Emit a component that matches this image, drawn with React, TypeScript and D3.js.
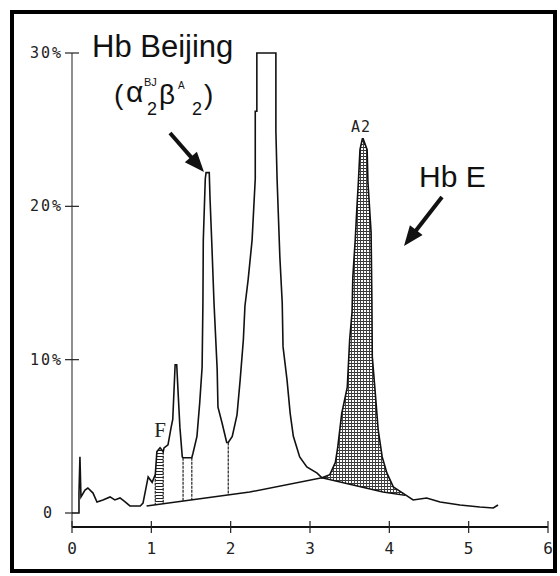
import React from "react";
import * as d3 from "d3";

// Retention time (min) and % of total
const times = [
  0, 0.088, 0.088, 0.1, 0.113, 0.164, 0.2, 0.265, 0.315, 0.39,
  0.48, 0.54, 0.605, 0.67, 0.73, 0.86, 0.895, 0.96, 1.01, 1.05,
  1.07, 1.11, 1.15, 1.16, 1.21, 1.25, 1.27, 1.3, 1.32, 1.34,
  1.36, 1.39, 1.4, 1.51, 1.525, 1.575, 1.61, 1.64, 1.65, 1.655,
  1.68, 1.69, 1.73, 1.74, 1.765, 1.79, 1.83, 1.84, 1.89, 1.95,
  1.97, 2.02, 2.08, 2.12, 2.16, 2.18, 2.22, 2.27, 2.31, 2.31,
  2.33, 2.33, 2.57, 2.57, 2.585, 2.6, 2.62, 2.65, 2.66, 2.71,
  2.75, 2.79, 2.87, 2.96, 3.09, 3.15, 3.25, 3.32, 3.35, 3.4,
  3.47, 3.5, 3.53, 3.54, 3.57, 3.59, 3.61, 3.63, 3.66, 3.67,
  3.72, 3.73, 3.77, 3.78, 3.785, 3.82, 3.86, 3.91, 3.97, 4.05,
  4.17, 4.3, 4.47, 4.64, 4.89, 5.14, 5.31, 5.37,
];
const percent = [
  0, 0, 1.3, 3.66, 1.05, 1.5, 1.63, 1.3, 0.72, 0.85,
  1.05, 0.85, 0.98, 0.72, 0.46, 0.46, 0.65, 2.35, 2.0, 2.5,
  4.0, 4.25, 4.0, 4.25, 4.45, 5.6, 6.1, 9.67, 9.67, 7.6,
  5.6, 3.66, 3.6, 3.6, 3.9, 5.0, 7.2, 9.5, 13.6, 17.8,
  21.8, 22.2, 22.2, 20.5, 17.2, 13.7, 9.35, 6.9, 5.9, 4.6,
  4.6, 5.0, 6.4, 8.7, 11.3, 13.5, 15.2, 17.8, 21.8, 26.2,
  26.2, 30, 30, 24.9, 21.8, 19.6, 16.7, 13.7, 10.85, 8.7,
  6.5, 5.0, 3.66, 3.0, 2.6, 2.3, 2.5, 3.3, 4.3, 6.5,
  8.2, 11.3, 13.1, 15.4, 17.8, 19.8, 21.6, 23.7, 24.4, 24.4,
  23.7, 21.6, 18.3, 13.9, 10.2, 8.0, 5.4, 3.66, 2.6, 1.7,
  1.3, 0.85, 0.98, 0.72, 0.52, 0.39, 0.33, 0.52,
];

// Integration baseline
const baseTimes = [0.94, 2.24, 3.15, 3.92, 4.2];
const basePercent = [0.45, 1.37, 2.3, 1.37, 1.15];

// Peak boundary drop lines
const dropTimes = [1.05, 1.15, 1.4, 1.51, 1.97];
const fRange = [1.05, 1.15];
const a2Range = [3.15, 4.17];

const xTicks = [0, 1, 2, 3, 4, 5, 6];
const yTicks = [0, 10, 20, 30];
const yTickLabels = ["0", "10%", "20%", "30%"];

function interp(xs: number[], ys: number[], t: number) {
  const i = d3.bisectRight(xs, t);
  if (i <= 0) return ys[0];
  if (i >= xs.length) return ys[ys.length - 1];
  const x0 = xs[i - 1], x1 = xs[i];
  if (x1 === x0) return ys[i];
  return ys[i - 1] + ((ys[i] - ys[i - 1]) * (t - x0)) / (x1 - x0);
}

function Arrow({ x1, y1, x2, y2 }: { x1: number; y1: number; x2: number; y2: number }) {
  const dx = x2 - x1, dy = y2 - y1;
  const len = Math.hypot(dx, dy);
  const ux = dx / len, uy = dy / len;
  const hl = 20, hw = 8;
  const bx = x2 - ux * hl, by = y2 - uy * hl;
  const pts = [
    [x2, y2],
    [bx - uy * hw, by + ux * hw],
    [bx + uy * hw, by - ux * hw],
  ];
  return (
    <g>
      <line x1={x1} y1={y1} x2={bx + ux * 2} y2={by + uy * 2} stroke="#111" strokeWidth={4} />
      <polygon points={pts.map((p) => p.join(",")).join(" ")} fill="#111" />
    </g>
  );
}

export default function App() {
  const x = d3.scaleLinear().domain([0, 6]).range([72, 548]);
  const y = d3.scaleLinear().domain([0, 30]).range([513, 53]);

  const idx = d3.range(times.length);
  const line = d3
    .line<number>()
    .x((i) => x(times[i]))
    .y((i) => y(percent[i]));

  const baseLine = d3
    .line<number>()
    .x((i) => x(baseTimes[i]))
    .y((i) => y(basePercent[i]));

  const region = (r: number[]) => {
    const ts = [r[0], ...times.filter((t) => t > r[0] && t < r[1]), r[1]];
    return d3
      .area<number>()
      .x((t) => x(t))
      .y0((t) => y(interp(baseTimes, basePercent, t)))
      .y1((t) => y(interp(times, percent, t)))(ts);
  };

  const mono = "'DejaVu Sans Mono', monospace";
  const sans = "'Liberation Sans', Arial, sans-serif";

  return (
    <svg
      width={560}
      height={576}
      style={{ position: "absolute", left: 0, top: 0, background: "#fff" }}
    >
      <defs>
        <pattern id="hatchH" width={4} height={3} patternUnits="userSpaceOnUse">
          <rect width={4} height={3} fill="#fff" />
          <line x1={0} y1={0.5} x2={4} y2={0.5} stroke="#222" strokeWidth={1} />
        </pattern>
        <pattern id="grid" width={3} height={3} patternUnits="userSpaceOnUse">
          <rect width={3} height={3} fill="#fff" />
          <line x1={0} y1={0.5} x2={3} y2={0.5} stroke="#333" strokeWidth={1} />
          <line x1={0.5} y1={0} x2={0.5} y2={3} stroke="#444" strokeWidth={1} />
        </pattern>
      </defs>

      <rect x={12} y={12} width={543} height={559} fill="#fff" stroke="#000" strokeWidth={4} />

      {/* axes */}
      <line x1={72} y1={y(30)} x2={72} y2={527} stroke="#444" strokeWidth={1.2} />
      <line x1={72} y1={527} x2={548} y2={527} stroke="#111" strokeWidth={2} />
      {yTicks.map((v, i) => (
        <g key={v}>
          <line x1={65} x2={v === 0 ? 72 : 79} y1={y(v)} y2={y(v)} stroke="#222" strokeWidth={1.2} />
          <text
            x={v === 0 ? 52 : 63}
            y={y(v) + 5}
            textAnchor="end"
            fontFamily={mono}
            fontSize={15}
            letterSpacing={v === 0 ? 0 : 2}
            fill="#222"
          >
            {yTickLabels[i]}
          </text>
        </g>
      ))}
      {xTicks.map((t) => (
        <g key={t}>
          <line x1={x(t)} x2={x(t)} y1={521} y2={533} stroke="#222" strokeWidth={1.2} />
          <text x={x(t)} y={554} textAnchor="middle" fontFamily={mono} fontSize={16} fill="#222">
            {t}
          </text>
        </g>
      ))}

      {/* shaded peaks */}
      <path d={region(fRange) || ""} fill="url(#hatchH)" stroke="none" />
      <path d={region(a2Range) || ""} fill="url(#grid)" stroke="none" />

      {/* drop lines */}
      {dropTimes.map((t) => (
        <line
          key={t}
          x1={x(t)}
          x2={x(t)}
          y1={y(interp(times, percent, t))}
          y2={y(interp(baseTimes, basePercent, t))}
          stroke="#333"
          strokeWidth={1.3}
          strokeDasharray="3 1"
        />
      ))}

      {/* baseline and trace */}
      <path d={baseLine(d3.range(baseTimes.length)) || ""} fill="none" stroke="#111" strokeWidth={1.5} />
      <path d={line(idx) || ""} fill="none" stroke="#111" strokeWidth={1.6} strokeLinejoin="miter" />

      {/* labels */}
      <text x={160} y={437} fontFamily="'Liberation Serif', serif" fontSize={21} fill="#222" textAnchor="middle">
        F
      </text>
      <text x={361} y={132} fontFamily={mono} fontSize={15} fill="#222" textAnchor="middle" letterSpacing={1}>
        A2
      </text>

      <text x={92} y={57} fontFamily={sans} fontSize={31} fill="#111">
        Hb Beijing
      </text>
      <g fontFamily={sans} fill="#111">
        <text x={114} y={104} fontSize={28}>(</text>
        <text x={126} y={102} fontSize={30}>α</text>
        <text x={144} y={86} fontSize={11}>BJ</text>
        <text x={147} y={115} fontSize={18}>2</text>
        <text x={159} y={104} fontSize={28}>β</text>
        <text x={178} y={89} fontSize={10}>A</text>
        <text x={192} y={115} fontSize={18}>2</text>
        <text x={204} y={104} fontSize={28}>)</text>
      </g>
      <Arrow x1={170} y1={133} x2={204} y2={172} />

      <text x={419} y={187} fontFamily={sans} fontSize={30} fill="#111">
        Hb E
      </text>
      <Arrow x1={442} y1={197} x2={404} y2={246} />
    </svg>
  );
}
